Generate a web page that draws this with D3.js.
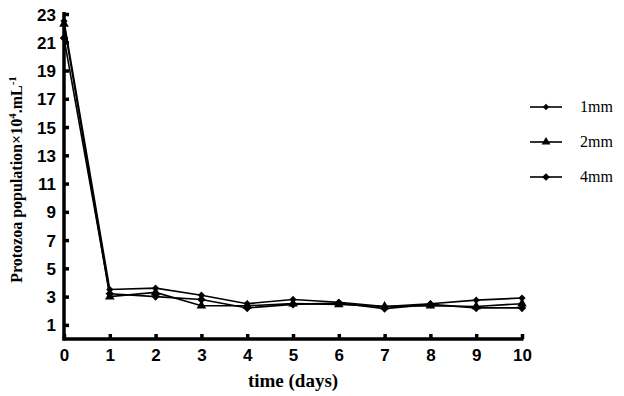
<!DOCTYPE html>
<html>
<head>
<meta charset="utf-8">
<script src="https://cdn.jsdelivr.net/npm/d3@7"></script>
<style>
body { margin: 0; background: #fff; }
</style>
</head>
<body>
<div id="chart"></div>
<script>
const days = [0, 1, 2, 3, 4, 5, 6, 7, 8, 9, 10];
const yTicks = [1, 3, 5, 7, 9, 11, 13, 15, 17, 19, 21, 23];
const seriesNames = ['1mm', '2mm', '4mm'];
const mm1 = [22.5, 3.5, 3.6, 3.1, 2.5, 2.8, 2.6, 2.3, 2.5, 2.75, 2.9];
const mm2 = [22.3, 3.0, 3.3, 2.35, 2.35, 2.5, 2.45, 2.3, 2.35, 2.3, 2.5];
const mm4 = [21.3, 3.2, 3.0, 2.8, 2.2, 2.45, 2.55, 2.15, 2.45, 2.2, 2.2];
// diamonds are squares turned 45 degrees
const symbols = [d3.symbolSquare, d3.symbolTriangle, d3.symbolSquare];
const symSizes = [26, 40, 36];
const symRot = [45, 0, 45];

const width = 624, height = 396;
const margin = {top: 14, right: 102, bottom: 57, left: 64};

const svg = d3.select('#chart').append('svg')
    .attr('width', width)
    .attr('height', height);

const x = d3.scaleLinear().domain([0, 10]).range([margin.left, width - margin.right]);
const y = d3.scaleLinear().domain([0, 23]).range([height - margin.bottom, margin.top]);

// axes
const xAxis = svg.append('g')
    .attr('transform', `translate(0, ${y(0)})`)
    .call(d3.axisBottom(x).tickValues(days).tickSizeInner(-5).tickSizeOuter(0).tickPadding(10));
const yAxis = svg.append('g')
    .attr('transform', `translate(${x(0)}, 0)`)
    .call(d3.axisLeft(y).tickValues(yTicks).tickSizeInner(-5).tickSizeOuter(0).tickPadding(8));

[xAxis, yAxis].forEach(g => {
    g.select('.domain').attr('stroke', '#000').attr('stroke-width', 3.5);
    g.selectAll('.tick line').attr('stroke', '#000').attr('stroke-width', 3.5);
    g.selectAll('.tick text')
        .attr('fill', '#000')
        .style('font-family', 'Liberation Sans, Arial, sans-serif')
        .style('font-weight', 'bold')
        .style('font-size', '17px');
});
xAxis.select('.domain').attr('d', `M${x(0) - 1.5},0H${x(10) + 1.5}`);
yAxis.select('.domain').attr('d', `M0,${y(0) + 1.5}V${y(23) - 2}`);
yAxis.selectAll('.tick text').attr('dy', '0.36em');

// axis titles
svg.append('text')
    .attr('x', (x(0) + x(10)) / 2)
    .attr('y', 387)
    .attr('text-anchor', 'middle')
    .style('font-family', 'Liberation Serif, Times New Roman, serif')
    .style('font-weight', 'bold')
    .style('font-size', '19px')
    .text('time (days)');

const yLab = svg.append('text')
    .attr('transform', `translate(22, ${(y(0) + y(23)) / 2 + 3}) rotate(-90)`)
    .attr('text-anchor', 'middle')
    .style('font-family', 'Liberation Serif, Times New Roman, serif')
    .style('font-weight', 'bold')
    .style('font-size', '16px');
yLab.append('tspan').text('Protozoa population×10');
yLab.append('tspan').attr('dy', '-6').style('font-size', '11px').text('4');
yLab.append('tspan').attr('dy', '6').text('.mL');
yLab.append('tspan').attr('dy', '-6').style('font-size', '11px').text('-1');

// series
const allSeries = [mm1, mm2, mm4];
const line = d3.line().x((d, i) => x(days[i])).y(d => y(d));

allSeries.forEach((vals, si) => {
    svg.append('path')
        .datum(vals)
        .attr('fill', 'none')
        .attr('stroke', '#000')
        .attr('stroke-width', 1.6)
        .attr('d', line);
    svg.selectAll(`.m${si}`).data(vals).enter().append('path')
        .attr('class', `m${si}`)
        .attr('transform', (d, i) => `translate(${x(days[i])}, ${y(d)}) rotate(${symRot[si]})`)
        .attr('d', d3.symbol().type(symbols[si]).size(symSizes[si]))
        .attr('fill', '#000');
});

// legend
const legend = svg.append('g');
seriesNames.forEach((name, i) => {
    const ly = 107 + i * 35;
    legend.append('line')
        .attr('x1', 530).attr('x2', 562)
        .attr('y1', ly).attr('y2', ly)
        .attr('stroke', '#000').attr('stroke-width', 1.6);
    legend.append('path')
        .attr('transform', `translate(546, ${ly}) rotate(${symRot[i]})`)
        .attr('d', d3.symbol().type(symbols[i]).size(symSizes[i] - 6))
        .attr('fill', '#000');
    legend.append('text')
        .attr('x', 580).attr('y', ly + 5)
        .style('font-family', 'Liberation Serif, Times New Roman, serif')
        .style('font-size', '16px')
        .text(name);
});
</script>
</body>
</html>
